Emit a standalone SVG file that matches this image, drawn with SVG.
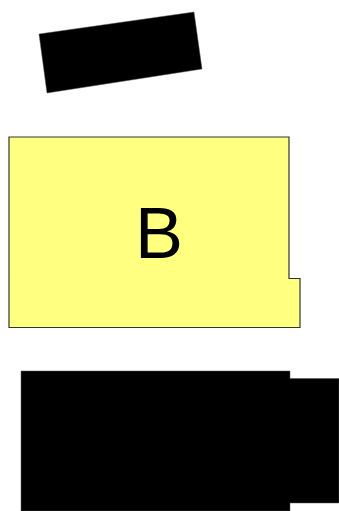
<svg xmlns="http://www.w3.org/2000/svg" width="339" height="511" viewBox="0 0 339 511">
<style>
.blk{fill:#000;stroke:#555;stroke-width:0.5}
.yel{fill:#ffff80;stroke:#333;stroke-width:1.2}
.lbl{font-family:"Liberation Sans",Arial,sans-serif;font-size:72px;fill:#000;text-anchor:middle}
</style>
<g id="top">
<polygon class="blk" points="39,34 194,12 202,69 47,93"/>
</g>
<g id="B">
<polygon class="yel" points="9,137 289,137 289,278.5 300,278.5 300,327.5 9,327.5"/>
<text class="lbl" x="159" y="258">B</text>
</g>
<g id="bottom">
<polygon class="blk" points="21,371 290,371 290,378.5 339,378.5 339,503 290,503 290,511 21,511"/>
</g>
<g id="connectors"/>
</svg>
